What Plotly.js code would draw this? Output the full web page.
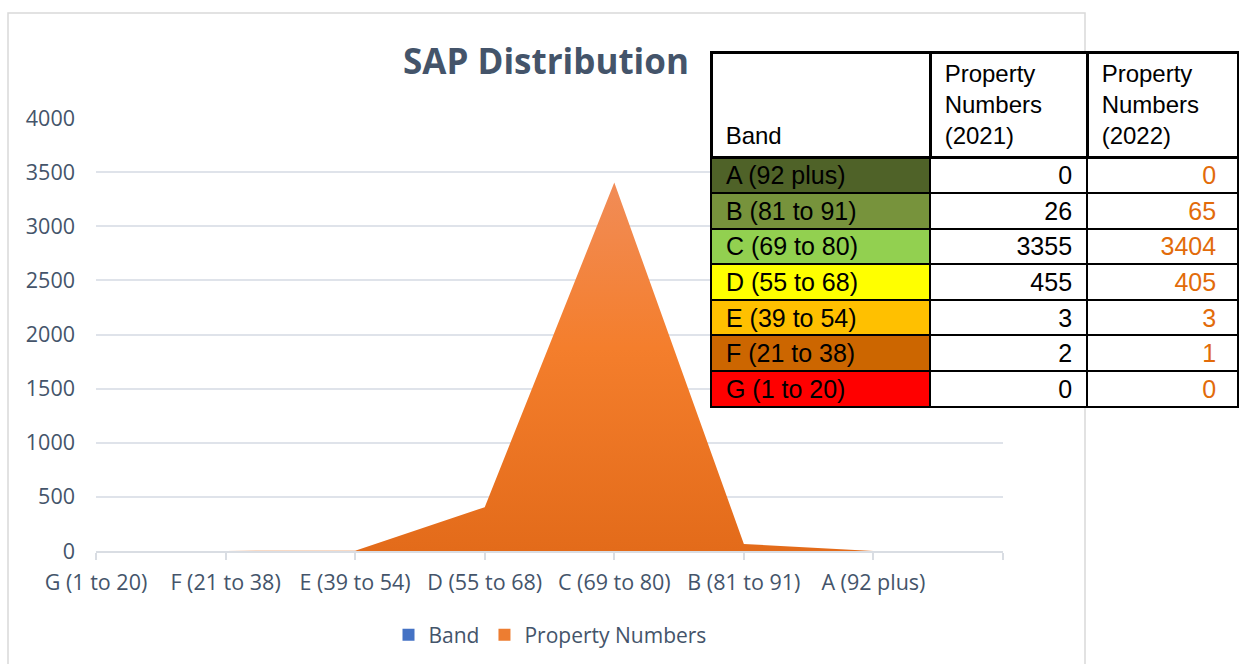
<!DOCTYPE html>
<html>
<head>
<meta charset="utf-8">
<script src="https://cdn.plot.ly/plotly-3.0.1.min.js"></script>
<style>html,body{margin:0;padding:0;background:#fff;}#chart{width:1239px;height:664px;}</style>
</head>
<body>
<div id="chart"></div>
<script>
// ---- data ----
var bands = ['A (92 plus)', 'B (81 to 91)', 'C (69 to 80)', 'D (55 to 68)', 'E (39 to 54)', 'F (21 to 38)', 'G (1 to 20)'];
var numbers2021 = [0, 26, 3355, 455, 3, 2, 0];
var numbers2022 = [0, 65, 3404, 405, 3, 1, 0];
var bandColors = ['#4f6228', '#77933c', '#92d050', '#ffff00', '#ffc000', '#cc6600', '#ff0000'];
var headerLabels = ['&nbsp;<br>&nbsp;<br>&nbsp;Band', '&nbsp;Property<br>&nbsp;Numbers<br>&nbsp;(2021)', '&nbsp;Property<br>&nbsp;Numbers<br>&nbsp;(2022)'];
var yTicks = [0, 500, 1000, 1500, 2000, 2500, 3000, 3500, 4000];

// chart runs G -> A
var chartCategories = bands.slice().reverse();
var chartValues = numbers2022.slice().reverse();
var axisCategories = chartCategories.concat([' ']);

var W = 1239, H = 664;
function px(x) { return x / W; }
function py(y) { return 1 - y / H; }

var textColor = '#44546a';
var gridColor = '#dfe3ea';
var orange = '#e26b0a';
var nb = '\u00a0';

var traces = [
  {
    type: 'scatter', x: chartCategories, y: chartValues,
    mode: 'none', fill: 'tozeroy',
    fillgradient: {type: 'vertical', colorscale: [[0, '#e36b1a'], [0.55, '#f47e2c'], [1, '#f18c57']]},
    fillcolor: '#f47e2c', showlegend: false, hoverinfo: 'x+y'
  },
  {
    type: 'bar', name: 'Band', x: [chartCategories[0]], y: [null],
    marker: {color: '#4472c4'}, showlegend: true
  },
  {
    type: 'bar', name: 'Property Numbers', x: [chartCategories[0]], y: [null],
    marker: {color: '#ed7d31'}, showlegend: true
  },
  {
    type: 'table',
    domain: {x: [px(711), px(1238)], y: [py(430), py(52)]},
    columnwidth: [219, 157, 151],
    header: {
      values: headerLabels,
      align: ['left', 'left', 'left'],
      height: 97,
      fill: {color: '#ffffff'},
      line: {color: '#000000', width: 3},
      font: {family: 'Liberation Sans, Arial, sans-serif', size: 24, color: '#000000'}
    },
    cells: {
      values: [bands.map(function(b){return nb + b;}),
               numbers2021.map(function(v){return v + nb;}),
               numbers2022.map(function(v){return v + nb + nb;})],
      align: ['left', 'right', 'right'],
      height: 35.6,
      fill: {color: [bandColors, bands.map(function(){return '#ffffff';}), bands.map(function(){return '#ffffff';})]},
      line: {color: '#000000', width: 2},
      font: {family: 'Liberation Sans, Arial, sans-serif', size: 25, color: ['#000000', '#000000', orange]}
    }
  }
];

var layout = {
  width: W, height: H,
  margin: {l: 0, r: 0, t: 0, b: 0},
  paper_bgcolor: '#ffffff', plot_bgcolor: 'rgba(0,0,0,0)',
  font: {family: 'Open Sans, sans-serif', color: textColor},
  title: {
    text: 'SAP Distribution', x: px(546), xanchor: 'center', y: py(62), yanchor: 'middle',
    font: {family: 'Open Sans, sans-serif', size: 35, weight: 700, color: textColor}
  },
  xaxis: {
    domain: [px(96), px(1003)],
    type: 'category', categoryorder: 'array', categoryarray: axisCategories,
    range: [0, 7],
    showgrid: false, zeroline: false,
    showline: true, linecolor: '#d9dde3', linewidth: 2,
    ticks: 'outside', ticklen: 7, tickcolor: '#d9dde3', tickwidth: 2,
    tickfont: {size: 21.5, color: textColor},
    ticklabelstandoff: 4,
    fixedrange: true
  },
  yaxis: {
    domain: [py(551), py(118)],
    range: [0, 4000], tickvals: yTicks,
    showgrid: true, gridcolor: gridColor, gridwidth: 2,
    zeroline: false, showline: false, ticks: '',
    tickfont: {size: 21.5, color: textColor},
    ticklabelstandoff: 20,
    fixedrange: true
  },
  barmode: 'overlay',
  legend: {
    orientation: 'h', x: px(550), xanchor: 'center', y: py(635), yanchor: 'middle',
    font: {size: 21, color: textColor}, bgcolor: 'rgba(0,0,0,0)'
  },
  shapes: [
    {type: 'rect', xref: 'paper', yref: 'paper', x0: px(8), x1: px(1085), y0: py(680), y1: py(13),
     line: {color: '#d9d9d9', width: 1.5}, fillcolor: 'rgba(0,0,0,0)', layer: 'below'}
  ],
  showlegend: true
};

Plotly.newPlot('chart', traces, layout, {displayModeBar: false, staticPlot: true});
</script>
</body>
</html>
